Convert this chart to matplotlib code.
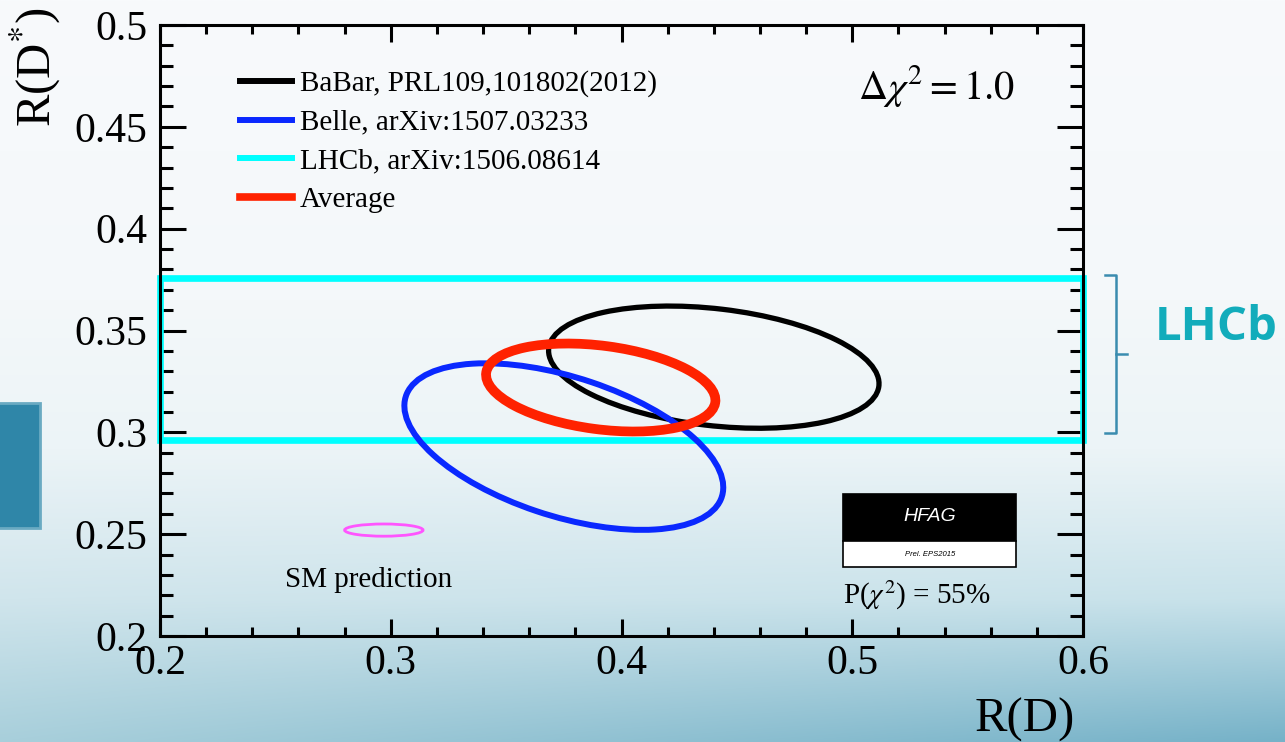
import numpy as np
import matplotlib
matplotlib.use('Agg')
import matplotlib.pyplot as plt
from matplotlib.patches import Ellipse, Rectangle
from matplotlib.lines import Line2D

# ---------------- data ----------------
meas_names = ['BaBar', 'Belle', 'Average', 'SM']
rd_val = [0.440, 0.375, 0.391, 0.297]
rd_err = [0.0716, 0.0691, 0.0497, 0.017]
rds_val = [0.332, 0.293, 0.322, 0.252]
rds_err = [0.030, 0.0409, 0.0216, 0.003]
corr = [-0.27, -0.49, -0.29, 0.0]

lhcb_rds_val = 0.336
lhcb_rds_err = 0.040

legend_labels = ['BaBar, PRL109,101802(2012)', 'Belle, arXiv:1507.03233',
                 'LHCb, arXiv:1506.08614', 'Average']

x_ticks = [0.2, 0.3, 0.4, 0.5, 0.6]
y_ticks = [0.2, 0.25, 0.3, 0.35, 0.4, 0.45, 0.5]

# ---------------- style ----------------
plt.rcParams['font.family'] = ['Liberation Serif', 'DejaVu Serif']
plt.rcParams['mathtext.fontset'] = 'stix'

colors = {'BaBar': '#000000', 'Belle': '#0a28ff', 'Average': '#ff2200', 'SM': '#ff55ff'}
lws = {'BaBar': 3.8, 'Belle': 4.3, 'Average': 7.0, 'SM': 2.0}
zord = {'BaBar': 3, 'Belle': 4, 'Average': 5, 'SM': 3}
cyan = '#00ffff'

W, H = 1285, 742
fig = plt.figure(figsize=(W / 100, H / 100), dpi=100)

# background gradient
bg = fig.add_axes([0, 0, 1, 1], zorder=-10)
bg.set_axis_off()
ys = np.array([0, 300, 450, 600, 742]) / H
left_c = np.array([[248, 250, 252], [244, 248, 250], [236, 244, 247], [208, 229, 236], [168, 207, 219]]) / 255
right_c = np.array([[248, 250, 252], [244, 248, 250], [236, 244, 247], [200, 226, 234], [118, 178, 200]]) / 255
yy = np.linspace(0, 1, 300)
xx = np.linspace(0, 1, 200)
img = np.zeros((300, 200, 3))
for k in range(3):
    lc = np.interp(yy, ys, left_c[:, k])
    rc = np.interp(yy, ys, right_c[:, k])
    img[:, :, k] = lc[:, None] * (1 - xx[None, :]) + rc[:, None] * xx[None, :]
bg.imshow(img, extent=[0, 1, 0, 1], aspect='auto', origin='upper', interpolation='bilinear')
bg.set_xlim(0, 1)
bg.set_ylim(0, 1)

# left decorative box
fig.patches.append(Rectangle((-2 / W, 1 - 528 / H), 42 / W, 125 / H, transform=fig.transFigure,
                             facecolor='#2f86a8', edgecolor='#6aaac2', lw=2.0, zorder=1))

# main axes
ax = fig.add_axes([160 / W, 1 - 636 / H, (1083 - 160) / W, (636 - 25) / H])
ax.patch.set_alpha(0)
ax.set_xlim(0.2, 0.6)
ax.set_ylim(0.2, 0.5)

# LHCb band
ax.add_patch(Rectangle((0.2, lhcb_rds_val - lhcb_rds_err), 0.4, 2 * lhcb_rds_err,
                       fill=False, edgecolor=cyan, lw=4.8, zorder=2, clip_on=False))

# ellipses (delta chi2 = 1 contours)
for name, x0, sx, y0, sy, r in zip(meas_names, rd_val, rd_err, rds_val, rds_err, corr):
    cov = np.array([[sx * sx, r * sx * sy], [r * sx * sy, sy * sy]])
    vals, vecs = np.linalg.eigh(cov)
    ang = np.degrees(np.arctan2(vecs[1, 1], vecs[0, 1]))
    ax.add_patch(Ellipse((x0, y0), 2 * np.sqrt(vals[1]), 2 * np.sqrt(vals[0]), angle=ang,
                         fill=False, edgecolor=colors[name], lw=lws[name], zorder=zord[name]))

# ticks
ax.set_xticks(x_ticks)
ax.set_xticklabels([f'{v:g}' for v in x_ticks])
ax.set_yticks(y_ticks)
ax.set_yticklabels([f'{v:g}' for v in y_ticks])
ax.set_xticks(np.arange(0.2, 0.6001, 0.02), minor=True)
ax.set_yticks(np.arange(0.2, 0.5001, 0.01), minor=True)
ax.tick_params(axis='x', which='major', direction='in', length=12.5, width=2.2, top=True,
               labelsize=30, pad=6)
ax.tick_params(axis='x', which='minor', direction='in', length=6.5, width=2.2, top=True)
ax.tick_params(axis='y', which='major', direction='in', length=19, width=2.2, right=True,
               labelsize=30, pad=9)
ax.tick_params(axis='y', which='minor', direction='in', length=9.5, width=2.2, right=True)
for s in ax.spines.values():
    s.set_linewidth(2.2)

# legend
handles = [Line2D([], [], color=colors['BaBar'], lw=4.3),
           Line2D([], [], color=colors['Belle'], lw=4.3),
           Line2D([], [], color=cyan, lw=4.3),
           Line2D([], [], color=colors['Average'], lw=5.5)]
ax.legend(handles, legend_labels, loc='upper left', bbox_to_anchor=(0.0867, 0.926),
          frameon=False, fontsize=21, handlelength=1.78, handletextpad=0.27,
          labelspacing=0.42, borderpad=0, borderaxespad=0)

# annotations
ax.text(0.8407, 0.900, r'$\Delta\chi^{2} = 1.0$', transform=ax.transAxes, ha='center',
        va='center', fontsize=29)
ax.text(0.1354, 0.0917, 'SM prediction', transform=ax.transAxes, ha='left', va='center',
        fontsize=21)
ax.text(0.740, 0.067, r'P($\chi^{2}$) = 55%', transform=ax.transAxes, ha='left', va='center',
        fontsize=21)

# HFAG logo
ax.add_patch(Rectangle((0.740, 0.1555), 0.1874, 0.0769, transform=ax.transAxes,
                       facecolor='black', edgecolor='black', lw=1.2, zorder=6))
ax.add_patch(Rectangle((0.740, 0.1129), 0.1874, 0.0426, transform=ax.transAxes,
                       facecolor='white', edgecolor='black', lw=1.2, zorder=6))
ax.text(0.834, 0.1948, 'HFAG', transform=ax.transAxes, ha='center', va='center',
        color='white', fontsize=14, style='italic', family='Liberation Sans', zorder=7)
ax.text(0.834, 0.1342, 'Prel. EPS2015', transform=ax.transAxes, ha='center', va='center',
        color='black', fontsize=5.5, style='italic', family='Liberation Sans', zorder=7)

# axis titles
fig.text(35 / W, 1 - 67 / H, r'R(D$^{*}$)', rotation=90, ha='center', va='center', fontsize=35)
fig.text(1025 / W, 1 - 720 / H, 'R(D)', ha='center', va='center', fontsize=35)

# LHCb bracket and label
bc = '#3a8caf'
fig.add_artist(Line2D([1105 / W, 1116 / W, 1116 / W, 1105 / W],
                      [1 - 275 / H, 1 - 275 / H, 1 - 433 / H, 1 - 433 / H],
                      transform=fig.transFigure, color=bc, lw=1.8, solid_joinstyle='round'))
fig.add_artist(Line2D([1116 / W, 1127 / W], [1 - 354 / H, 1 - 354 / H],
                      transform=fig.transFigure, color=bc, lw=1.8))
fig.text(1216 / W, 1 - 328 / H, 'LHCb', ha='center', va='center', fontsize=34,
         fontweight='bold', family='Open Sans', color='#12acbb')

fig.savefig('out.png', dpi=100)
